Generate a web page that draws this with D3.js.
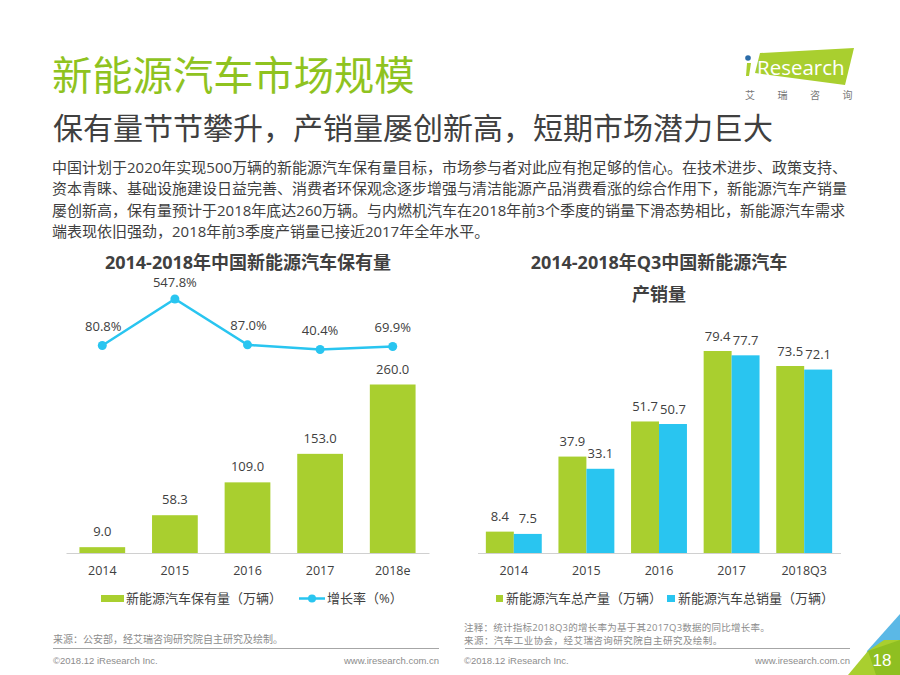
<!DOCTYPE html>
<html>
<head>
<meta charset="utf-8">
<script src="https://cdn.jsdelivr.net/npm/d3@7"></script>
<style>
html, body { margin: 0; padding: 0; background: #fff; }
text { font-family: "Open Sans", "Noto Sans CJK SC", sans-serif; }
</style>
</head>
<body>
<svg id="chart" width="900" height="675"></svg>
<script>
var introLines = [
    '中国计划于2020年实现500万辆的新能源汽车保有量目标，市场参与者对此应有抱足够的信心。在技术进步、政策支持、',
    '资本青睐、基础设施建设日益完善、消费者环保观念逐步增强与清洁能源产品消费看涨的综合作用下，新能源汽车产销量',
    '屡创新高，保有量预计于2018年底达260万辆。与内燃机汽车在2018年前3个季度的销量下滑态势相比，新能源汽车需求',
    '端表现依旧强劲，2018年前3季度产销量已接近2017年全年水平。'
];

var stockYears = ['2014', '2015', '2016', '2017', '2018e'];
var stockValues = [9.0, 58.3, 109.0, 153.0, 260.0];
var growthRates = [80.8, 547.8, 87.0, 40.4, 69.9];

var salesYears = ['2014', '2015', '2016', '2017', '2018Q3'];
var outputValues = [8.4, 37.9, 51.7, 79.4, 73.5];
var salesValues = [7.5, 33.1, 50.7, 77.7, 72.1];

var GREEN = '#a9cf2f', BLUE = '#29c5f0', TEXT = '#404040', GRAY = '#8c8c8c';
var ARIAL = '"Liberation Sans", sans-serif';

var svg = d3.select('#chart');

function label(x, y, str, size, opts) {
    opts = opts || {};
    var t = svg.append('text')
        .attr('x', x).attr('y', y)
        .attr('text-anchor', opts.anchor || 'start')
        .attr('font-size', size)
        .attr('font-weight', opts.weight || 400)
        .attr('fill', opts.fill || TEXT)
        .text(str);
    if (opts.family) {
        t.style('font-family', opts.family);
    }
    if (opts.spacing) {
        t.attr('letter-spacing', opts.spacing);
    }
    return t;
}

//Page header
label(52, 90, '新能源汽车市场规模', 40.3, {fill: '#8fc31f'});
label(53, 139, '保有量节节攀升，产销量屡创新高，短期市场潜力巨大', 30);
introLines.forEach(function(line, i) {
    label(52, 173 + i * 21.3, line, 15);
});

//Logo
svg.append('polygon')
    .attr('points', '760,53 854,48 845,85 755,73')
    .attr('fill', GREEN);
svg.append('circle').attr('cx', 748).attr('cy', 58).attr('r', 2.8).attr('fill', '#2b6ca8');
svg.append('polygon').attr('points', '747,63 751,63 749,76 746,76').attr('fill', GREEN);
label(757, 75, 'Research', 20.5, {fill: '#fff'});
['艾', '瑞', '咨', '询'].forEach(function(ch, i) {
    label(745 + i * 32.5, 99, ch, 10, {fill: '#777'});
});

//Left chart: stock bars with growth line
label(248, 269, '2014-2018年中国新能源汽车保有量', 18, {anchor: 'middle', weight: 700});

var x1 = d3.scaleBand().domain(stockYears).range([66, 429]).paddingInner(0.37).paddingOuter(0.185);
var y1 = d3.scaleLinear().domain([0, 260]).range([553, 384.5]);
var yRate = d3.scaleLinear().domain([0, 547.8]).range([353.5, 299]);

function drawAxis(scale, yPos) {
    var axis = svg.append('g')
        .attr('transform', 'translate(0,' + yPos + ')')
        .call(d3.axisBottom(scale).tickSize(0).tickPadding(13));
    axis.select('.domain').attr('stroke', '#d0d0d0').attr('stroke-width', 1);
    axis.selectAll('text').attr('font-size', 12.5).attr('fill', TEXT)
        .style('font-family', '"Open Sans", "Noto Sans CJK SC", sans-serif');
}

svg.selectAll('.stock-bar').data(stockValues).enter().append('rect')
    .attr('class', 'stock-bar')
    .attr('x', function(d, i) { return x1(stockYears[i]); })
    .attr('y', function(d) { return y1(d); })
    .attr('width', x1.bandwidth())
    .attr('height', function(d) { return y1(0) - y1(d); })
    .attr('fill', GREEN);
stockValues.forEach(function(d, i) {
    label(x1(stockYears[i]) + x1.bandwidth() / 2, y1(d) - 11, d.toFixed(1), 13, {anchor: 'middle'});
});
drawAxis(x1, 553);

var rateLine = d3.line()
    .x(function(d, i) { return x1(stockYears[i]) + x1.bandwidth() / 2; })
    .y(function(d) { return yRate(d); });
svg.append('path').datum(growthRates)
    .attr('d', rateLine)
    .attr('fill', 'none')
    .attr('stroke', BLUE)
    .attr('stroke-width', 2.5);
svg.selectAll('.rate-dot').data(growthRates).enter().append('circle')
    .attr('class', 'rate-dot')
    .attr('cx', function(d, i) { return x1(stockYears[i]) + x1.bandwidth() / 2; })
    .attr('cy', function(d) { return yRate(d); })
    .attr('r', 4.5)
    .attr('fill', BLUE);
//Rate labels sit at hand-picked heights above the line
var rateLabelY = [331, 287, 330, 335, 332];
growthRates.forEach(function(d, i) {
    label(x1(stockYears[i]) + x1.bandwidth() / 2 + (i === 0 ? 1 : (i === 2 ? 1 : 0)), rateLabelY[i], d.toFixed(1) + '%', 13, {anchor: 'middle'});
});

//Left legend
svg.append('rect').attr('x', 101).attr('y', 595).attr('width', 23).attr('height', 7).attr('fill', GREEN);
label(126, 603, '新能源汽车保有量（万辆）', 13);
svg.append('line').attr('x1', 299).attr('x2', 325).attr('y1', 598.5).attr('y2', 598.5)
    .attr('stroke', BLUE).attr('stroke-width', 2.5);
svg.append('circle').attr('cx', 312).attr('cy', 598.5).attr('r', 4).attr('fill', BLUE);
label(327, 603, '增长率（%）', 13);

//Right chart: output and sales
label(659, 269, '2014-2018年Q3中国新能源汽车', 18, {anchor: 'middle', weight: 700});
label(659, 301, '产销量', 18, {anchor: 'middle', weight: 700});

var x2 = d3.scaleBand().domain(salesYears).range([477.5, 840.5]).paddingInner(0.23).paddingOuter(0.115);
var y2 = d3.scaleLinear().domain([0, 79.4]).range([553, 351]);
var series = [
    {values: outputValues, color: GREEN, offset: 0},
    {values: salesValues, color: BLUE, offset: 1}
];

series.forEach(function(s) {
    var w = x2.bandwidth() / 2;
    svg.selectAll('.bar-' + s.offset).data(s.values).enter().append('rect')
        .attr('class', 'bar-' + s.offset)
        .attr('x', function(d, i) { return x2(salesYears[i]) + s.offset * w; })
        .attr('y', function(d) { return y2(d); })
        .attr('width', w)
        .attr('height', function(d) { return y2(0) - y2(d); })
        .attr('fill', s.color);
    s.values.forEach(function(d, i) {
        var cx = x2(salesYears[i]) + s.offset * w + w / 2;
        label(cx, y2(d) - 10.5, d.toFixed(1), 13, {anchor: 'middle'});
    });
});
drawAxis(x2, 553);

//Right legend
svg.append('rect').attr('x', 496).attr('y', 595).attr('width', 7).attr('height', 7).attr('fill', GREEN);
label(506, 603, '新能源汽车总产量（万辆）', 13);
svg.append('rect').attr('x', 667).attr('y', 595).attr('width', 8).attr('height', 7).attr('fill', BLUE);
label(678, 603, '新能源汽车总销量（万辆）', 13);

//Footers
label(53, 643, '来源：公安部，经艾瑞咨询研究院自主研究及绘制。', 10, {fill: GRAY});
label(464, 631, '注释：统计指标2018Q3的增长率为基于其2017Q3数据的同比增长率。', 9.5, {fill: GRAY, spacing: 0.25});
label(464, 643.5, '来源：汽车工业协会，经艾瑞咨询研究院自主研究及绘制。', 9.5, {fill: GRAY, spacing: 0.45});
[[53, 439], [465, 850]].forEach(function(r) {
    svg.append('line').attr('x1', r[0]).attr('x2', r[1]).attr('y1', 648.5).attr('y2', 648.5)
        .attr('stroke', '#a6a6a6').attr('stroke-width', 1);
});
label(53, 664, '©2018.12 iResearch Inc.', 9.5, {fill: GRAY, family: ARIAL});
label(439, 664, 'www.iresearch.com.cn', 9.5, {fill: GRAY, anchor: 'end', family: ARIAL});
label(464, 664, '©2018.12 iResearch Inc.', 9.5, {fill: GRAY, family: ARIAL});
label(850, 664, 'www.iresearch.com.cn', 9.5, {fill: GRAY, anchor: 'end', family: ARIAL});

//Corner decoration and page number
svg.append('polygon').attr('points', '900,614 900,660 866,660 867,651').attr('fill', '#5bb8e6');
svg.append('polygon').attr('points', '900,640 900,675 848,675 868,651 884,640').attr('fill', '#a9cf2f');
svg.append('polygon').attr('points', '868,651 900,640 900,675 876,675').attr('fill', '#8fbf21');
label(882, 666, '18', 17, {fill: '#fff', anchor: 'middle', family: ARIAL});
</script>
</body>
</html>
